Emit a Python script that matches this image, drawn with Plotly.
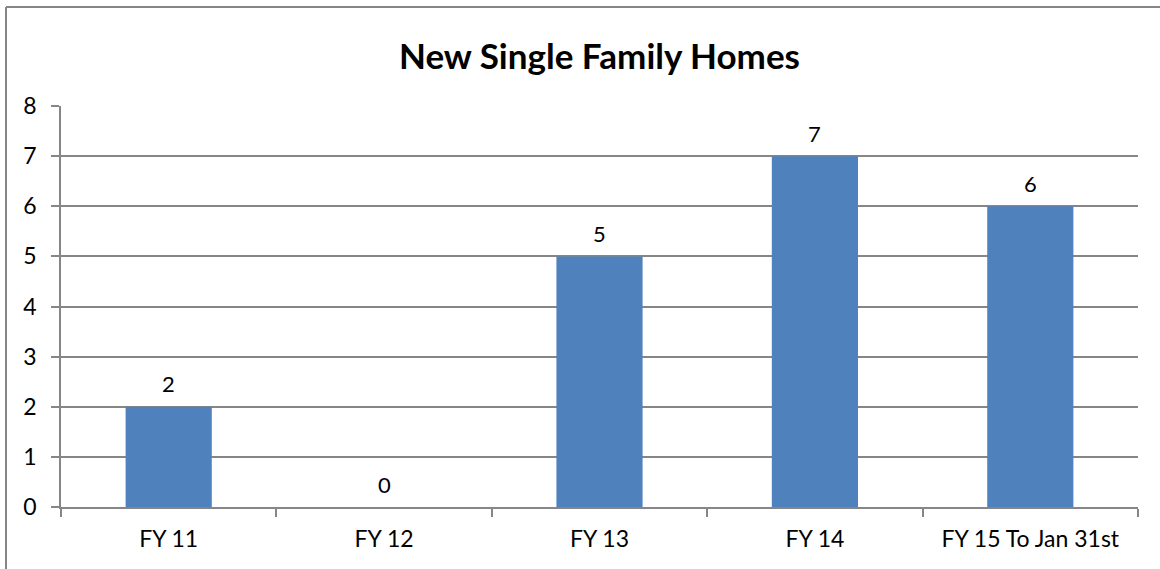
import plotly.graph_objects as go

categories = ["FY 11", "FY 12", "FY 13", "FY 14", "FY 15 To Jan 31st"]
values = [2, 0, 5, 7, 6]
title_text = "New Single Family Homes"

W, H = 1160, 569
L, R, T, B = 61, 1138, 106, 507  # plot area in pixels
FONT = "Lato, Open Sans, sans-serif"

fig = go.Figure()
fig.add_trace(go.Bar(
    x=categories, y=values,
    marker=dict(color="#4F81BD", line=dict(width=0)),
    width=0.4,
    hoverinfo="x+y",
))

annotations = [
    dict(x=c, y=v, xref="x", yref="y", text=str(v), showarrow=False,
         yanchor="middle", yshift=23, font=dict(family=FONT, size=22, color="#000000"))
    for c, v in zip(categories, values)
]

def px_x(p):
    return (p - L) / (R - L)

def px_y(p):
    return (B - p) / (B - T)

fig.update_layout(
    width=W, height=H,
    margin=dict(l=L, r=W - R, t=T, b=H - B, pad=0),
    paper_bgcolor="white", plot_bgcolor="white",
    showlegend=False,
    title=dict(text="<b>" + title_text + "</b>", x=0.5, xref="paper", xanchor="center",
               y=1 - 57 / H, yanchor="middle",
               font=dict(family=FONT, size=35, color="#000000")),
    font=dict(family=FONT, size=22, color="#000000"),
    annotations=annotations,
    xaxis=dict(
        showgrid=False, showline=True, linecolor="#868686", linewidth=1.5,
        ticks="outside", tickson="boundaries", ticklen=8, tickcolor="#868686", tickwidth=1.5,
        tickfont=dict(family=FONT, size=23), ticklabelstandoff=11,
    ),
    yaxis=dict(
        range=[0, 8], dtick=1, showgrid=True, gridcolor="#868686", gridwidth=1.5,
        showline=True, linecolor="#868686", linewidth=1.5,
        ticks="outside", ticklen=8, tickcolor="#868686", tickwidth=1.5,
        tickfont=dict(family=FONT, size=23), zeroline=False, ticklabelstandoff=10,
    ),
    shapes=[
        dict(type="line", xref="paper", yref="paper",
             x0=px_x(6), x1=px_x(W + 10), y0=px_y(7), y1=px_y(7),
             line=dict(color="#868686", width=2)),
        dict(type="line", xref="paper", yref="paper",
             x0=px_x(6), x1=px_x(6), y0=px_y(7), y1=px_y(H + 10),
             line=dict(color="#868686", width=2)),
    ],
)

fig.write_html("out.html", config={"displayModeBar": False},
               post_script="document.body.style.margin='0';document.body.style.overflow='hidden';")
